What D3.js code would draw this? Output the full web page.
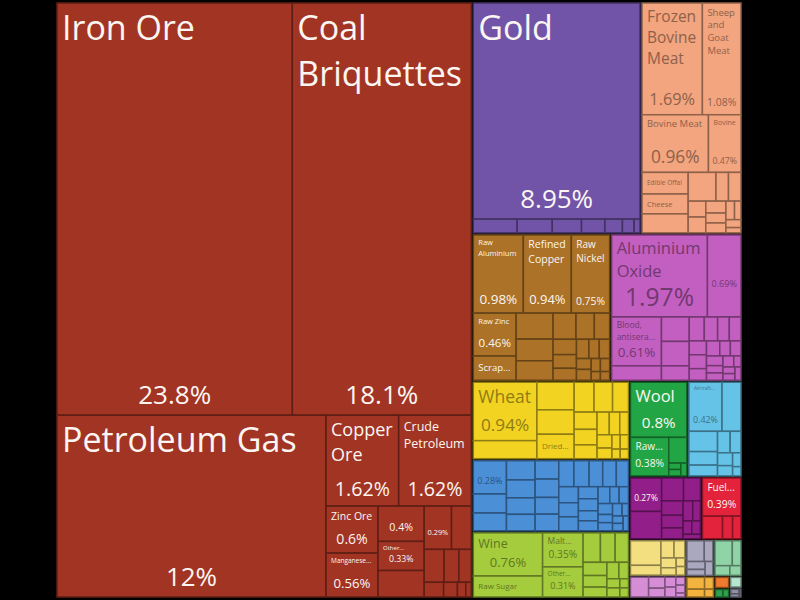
<!DOCTYPE html>
<html><head><meta charset="utf-8">
<script src="https://cdn.jsdelivr.net/npm/d3@7"></script>
<style>html,body{margin:0;background:#000;} svg{display:block}</style>
</head><body><svg id="c" width="800" height="600"></svg>
<script>
// ---- data (shares of total exports, %) ----
const sectorNames = ["Mineral Products","Precious Metals","Animal Products","Metals","Chemical Products",
  "Vegetable Products","Machines","Foodstuffs","Textiles","Transportation","Instruments",
  "Animal and Vegetable Bi-Products","Paper Goods","Plastics and Rubbers","Stone and Glass","Animal Hides",
  "Footwear and Headwear","Wood Products","Weapons","Arts and Antiques","Miscellaneous"];
const sectorColors = ["#a23424","#7154a8","#f2a57f","#ab7228","#c35fc0",
  "#f3d322","#4b8fd7","#a4cc3c","#22a645","#65c3e8","#921f89",
  "#e2233b","#f3de80","#d58dd6","#a9a8bf","#8fd3a6",
  "#f2b43f","#f07a2e","#2ea24a","#b6e6d0","#8e8da4"];
const mineralValues = [23.8,18.1,12.0,1.62,1.62,0.6,0.56,0.4,0.33,0.3,0.29,0.21,0.16,0.12,0.1,0.07,0.05,0.03,0.02];
const mineralLabels = ["Iron Ore","Coal Briquettes","Petroleum Gas","Copper Ore","Crude Petroleum","Zinc Ore","Manganese...","","Other...",null,""];
const preciousValues = [8.95,0.15,0.12,0.1,0.08,0.06,0.04,0.02];
const preciousLabels = ["Gold"];
const animalValues = [1.69,1.08,0.96,0.47,0.25,0.23,0.22,0.2,0.09,0.09,0.07,0.07,0.06,0.05,0.05,0.04,0.03,0.03,0.02];
const animalLabels = ["Frozen Bovine Meat","Sheep and Goat Meat","Bovine Meat","Bovine","Edible Offal","Cheese"];
const metalValues = [0.98,0.94,0.75,0.46,0.26,0.24,0.2,0.18,0.15,0.12,0.1,0.09,0.08,0.07,0.06,0.05,0.05,0.04,0.04,0.03,0.03,0.02,0.02];
const metalLabels = ["Raw Aluminium","Refined Copper","Raw Nickel","Raw Zinc","Scrap..."];
const chemicalValues = [1.97,0.69,0.61,0.18,0.17,0.17,0.1,0.09,0.08,0.07,0.07,0.06,0.06,0.05,0.05,0.04,0.04,0.04,0.03,0.03,0.03,0.02,0.02,0.02,0.02];
const chemicalLabels = ["Aluminium Oxide","","Blood, antisera..."];
const vegetableValues = [0.94,0.29,0.26,0.23,0.23,0.15,0.14,0.12,0.1,0.09,0.08,0.07,0.06,0.05,0.05,0.04,0.03,0.03,0.02,0.02];
const vegetableLabels = ["Wheat",null,null,null,"Dried..."];
const machineValues = [0.28,0.16,0.15,0.14,0.13,0.12,0.12,0.11,0.11,0.1,0.1,0.1,0.1,0.09,0.09,0.08,0.08,0.07,0.07,0.06,0.06,0.05,0.05,0.05,0.04,0.04,0.04,0.03,0.03,0.03,0.02,0.02,0.02,0.02];
const machineLabels = [""];
const foodValues = [0.76,0.37,0.35,0.31,0.13,0.11,0.1,0.08,0.07,0.06,0.05,0.04,0.03,0.03,0.02,0.02];
const foodLabels = ["Wine","Raw Sugar","Malt...","Other..."];
const textileValues = [0.8,0.38,0.12,0.02,0.02,0.02];
const textileLabels = ["Wool","Raw..."];
const transportValues = [0.42,0.24,0.15,0.1,0.08,0.07,0.06,0.05,0.04,0.03,0.02];
const transportLabels = ["Aircraft..."];
const instrumentValues = [0.27,0.22,0.13,0.1,0.08,0.07,0.06,0.05,0.04,0.03,0.03,0.02];
const instrumentLabels = [""];
const byproductValues = [0.39,0.12,0.06,0.05];
const byproductLabels = ["Fuel..."];
const paperValues = [0.2,0.08,0.06,0.05,0.04,0.03,0.02,0.02];
const plasticValues = [0.1,0.05,0.04,0.03,0.03,0.02,0.02,0.01];
const stoneValues = [0.1,0.05,0.04,0.03,0.03];
const hideValues = [0.12,0.06,0.04,0.03];
const footwearValues = [0.06,0.04,0.03,0.02];
const woodValues = [0.045];
const weaponValues = [0.02,0.015];
const artValues = [0.035];
const miscValues = [0.015,0.01,0.005];

const sectorValues = [mineralValues,preciousValues,animalValues,metalValues,chemicalValues,vegetableValues,
  machineValues,foodValues,textileValues,transportValues,instrumentValues,byproductValues,paperValues,
  plasticValues,stoneValues,hideValues,footwearValues,woodValues,weaponValues,artValues,miscValues];
const sectorLabels = [mineralLabels,preciousLabels,animalLabels,metalLabels,chemicalLabels,vegetableLabels,
  machineLabels,foodLabels,textileLabels,transportLabels,instrumentLabels,byproductLabels,[],[],[],[],[],[],[],[],[]];

// ---- layout ----
const X0 = 57, Y0 = 3, W = 684, H = 594;
const LH = 1.36;
const tree = {name: "Exports", children: sectorNames.map((n, i) => ({
  name: n, color: sectorColors[i],
  children: sectorValues[i].map((v, j) => ({value: v, label: sectorLabels[i][j] === undefined ? null : sectorLabels[i][j]}))
}))};
const root = d3.hierarchy(tree).sum(d => d.children ? 0 : d.value).sort((a, b) => b.value - a.value);
d3.treemap().tile(d3.treemapSquarify).size([W, H]).paddingInner(d => d.depth === 0 ? 2 : 0)(root);

const svg = d3.select("#c");
svg.append("rect").attr("width", 800).attr("height", 600).attr("fill", "#000");
const g = svg.append("g").attr("transform", `translate(${X0},${Y0})`);

const ctx = document.createElement("canvas").getContext("2d");
const FONT = '"Open Sans", "DejaVu Sans", sans-serif';
function tw(t, fs) { ctx.font = `${fs}px ${FONT}`; return ctx.measureText(t).width; }
function wrap(text, fs, maxW) {
  const words = text.split(/\s+/); const lines = []; let cur = "";
  for (const w of words) {
    if (tw(w, fs) > maxW) return null;
    const t = cur ? cur + " " + w : w;
    if (tw(t, fs) <= maxW) cur = t; else { lines.push(cur); cur = w; }
  }
  if (cur) lines.push(cur);
  return lines;
}
const fmt = v => d3.format(".3~r")(v) + "%";

const leaves = root.leaves();
leaves.forEach(d => { d.color = d.parent.data.color; });

g.selectAll("rect.leaf").data(leaves).join("rect").attr("class", "leaf")
  .attr("x", d => d.x0).attr("y", d => d.y0)
  .attr("width", d => d.x1 - d.x0).attr("height", d => d.y1 - d.y0)
  .attr("fill", d => d.color)
  .attr("stroke", d => d3.color(d.color).darker(1.5))
  .attr("stroke-width", 1.5);

function textColor(c) {
  const r = d3.rgb(c);
  return (r.r * 299 + r.g * 587 + r.b * 114) / 1000 >= 128 ? d3.rgb(c).darker(1.5).toString() : "#fbf6f2";
}

// best font size for a name, preferring fewer lines when nearly as large
function fitName(name, maxW, avail, cap) {
  const best = {};
  for (let fs = Math.floor(cap * 2) / 2; fs >= 5; fs -= 0.5) {
    const l = wrap(name, fs, maxW);
    if (l && l.length * fs * LH <= avail && !best[l.length]) best[l.length] = {fs, lines: l};
  }
  const opts = Object.values(best);
  if (!opts.length) return {fs: 5, lines: [name]};
  const maxFs = d3.max(opts, o => o.fs);
  opts.sort((a, b) => a.lines.length - b.lines.length);
  return opts.find(o => o.fs >= 0.88 * maxFs);
}

const labelled = leaves.filter(d => d.data.label !== null);
labelled.forEach(d => {
  const w = d.x1 - d.x0, h = d.y1 - d.y0;
  const col = textColor(d.color);
  const name = d.data.label;
  const pfs = Math.min(26, 0.27 * w, 0.3 * h);
  const showPct = h >= 29;
  const pad = 5;
  if (name) {
    const avail = showPct ? h - pfs - 12 : h - 6;
    const cap = showPct ? Math.min(34, 0.3 * h) : Math.min(34, 0.4 * h);
    const {fs, lines} = fitName(name, w - 2 * pad, avail, cap);
    const t = g.append("text").attr("fill", col).attr("font-family", FONT).attr("font-size", fs);
    const by = showPct ? d.y0 + 3 + fs * 1.0 : d.y0 + h / 2 + fs * 0.35 - (lines.length - 1) * fs * LH / 2;
    lines.forEach((ln, i) => t.append("tspan").attr("x", d.x0 + pad).attr("y", by + i * fs * LH).text(ln));
    if (showPct) {
      g.append("text").attr("fill", col).attr("font-family", FONT).attr("font-size", pfs)
        .attr("text-anchor", "middle").attr("x", (d.x0 + d.x1) / 2).attr("y", d.y1 - 7 - pfs * 0.15)
        .text(fmt(d.data.value));
    }
  } else {
    g.append("text").attr("fill", col).attr("font-family", FONT).attr("font-size", pfs)
      .attr("text-anchor", "middle").attr("x", (d.x0 + d.x1) / 2).attr("y", d.y0 + h * 0.6 + pfs * 0.35)
      .text(fmt(d.data.value));
  }
});
</script></body></html>
